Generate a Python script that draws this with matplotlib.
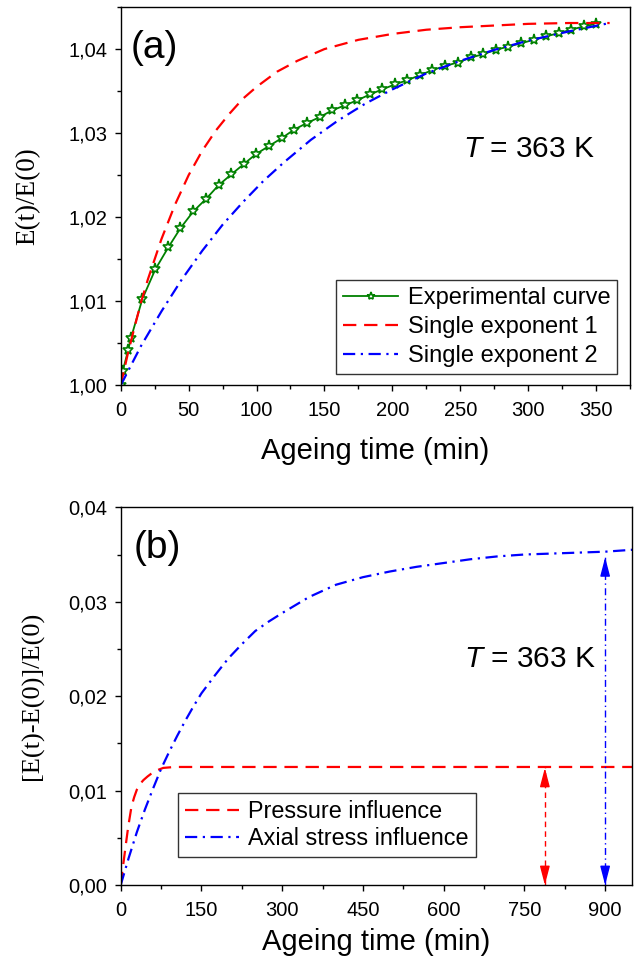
import matplotlib
matplotlib.use('Agg')
import matplotlib.pyplot as plt
from matplotlib.ticker import MultipleLocator, FuncFormatter

plt.rcParams['font.family'] = ['Liberation Sans', 'DejaVu Sans']
plt.rcParams['mathtext.fontset'] = 'custom'
plt.rcParams['mathtext.it'] = 'Liberation Sans:italic'
plt.rcParams['mathtext.rm'] = 'Liberation Sans'

# (a) experimental curve
exp_t = [0, 1.5, 5.5, 7.5, 16, 25.5, 35, 44, 53.5, 63, 72, 81.5, 90.5, 99.5, 109, 118.5,
         127.5, 137, 146.5, 155.5, 165, 174, 183.5, 192.5, 202, 211, 220.5, 229.5, 239,
         248, 258, 267, 276, 285.5, 295, 304, 313, 322.5, 331.5, 341, 350]
exp_v = [1.0000, 1.0017, 1.0042, 1.0056, 1.0103, 1.0138, 1.0164, 1.0187, 1.0207, 1.0222,
         1.0238, 1.0251, 1.0263, 1.0275, 1.02845, 1.0294, 1.0304, 1.0312, 1.0319, 1.0327,
         1.0333, 1.0339, 1.0346, 1.0352, 1.0358, 1.0363, 1.0369, 1.0375, 1.0380, 1.0384,
         1.0390, 1.0394, 1.0399, 1.0403, 1.0407, 1.0411, 1.0415, 1.0419, 1.0423, 1.0427,
         1.0430]

# (a) single exponent fits
fit1_t = [0, 5, 10, 15, 20, 30, 40, 50, 60, 70, 80, 90, 100, 115, 130, 150, 175, 200,
          225, 250, 275, 300, 330, 360]
fit1_v = [1.0, 1.0036, 1.0068, 1.0099, 1.0126, 1.0174, 1.0215, 1.0250, 1.0279, 1.0303,
          1.0323, 1.0341, 1.0355, 1.0373, 1.0386, 1.0400, 1.0411, 1.0418, 1.0423, 1.0426,
          1.0428, 1.0430, 1.0431, 1.0431]
fit2_t = [0, 15, 30, 45, 60, 75, 90, 105, 120, 140, 160, 180, 200, 225, 250, 275, 300,
          330, 360]
fit2_v = [1.0, 1.0047, 1.0088, 1.0126, 1.0160, 1.0191, 1.0218, 1.0243, 1.0265, 1.0292,
          1.0315, 1.0335, 1.0352, 1.0371, 1.0386, 1.0399, 1.0410, 1.0421, 1.0431]

# (b) pressure and axial stress influence
pres_t = [0, 5, 10, 14, 20, 25, 30, 36, 42, 50, 57, 65, 79, 100, 950]
pres_v = [0, 0.0023, 0.0045, 0.0062, 0.0083, 0.0093, 0.0101, 0.0107, 0.0111, 0.0115,
          0.0118, 0.0121, 0.0124, 0.0125, 0.0125]
axial_t = [0, 15, 30, 45, 60, 75, 90, 105, 120, 135, 150, 175, 200, 225, 250, 275, 300,
           350, 400, 450, 500, 550, 600, 650, 700, 750, 800, 850, 900, 950]
axial_v = [0, 0.0029, 0.0056, 0.0080, 0.0102, 0.0123, 0.0141, 0.0158, 0.0174, 0.0189,
           0.0203, 0.0222, 0.0240, 0.0255, 0.0269, 0.0279, 0.0288, 0.0305, 0.0318,
           0.0326, 0.0332, 0.0337, 0.0341, 0.0345, 0.0348, 0.0350, 0.0351, 0.0352,
           0.0353, 0.0355]

# double arrows in (b): x, bottom, top
pres_arrow = [788, 0.0, 0.0124]
axial_arrow = [900, 0.0, 0.0347]

comma = FuncFormatter(lambda v, p: f'{v:.2f}'.replace('.', ','))

fig = plt.figure(figsize=(6.36, 9.65), dpi=100)
ax1 = fig.add_axes([0.1898, 0.6007, 0.8008, 0.392])
ax2 = fig.add_axes([0.1898, 0.0829, 0.804, 0.3914])

ax1.plot(exp_t, exp_v, color='green', lw=1.3, marker='*', ms=8, mfc='white',
         mec='green', mew=1.2, label='Experimental curve')
ax1.plot(fit1_t, fit1_v, color='red', lw=1.6, dashes=(6, 3.5), label='Single exponent 1')
ax1.plot(fit2_t, fit2_v, color='blue', lw=1.6, dashes=(5.5, 2.5, 1, 2.5),
         label='Single exponent 2')

ax2.plot(pres_t, pres_v, color='red', lw=1.6, dashes=(6, 3.5), label='Pressure influence')
ax2.plot(axial_t, axial_v, color='blue', lw=1.6, dashes=(5.5, 2.5, 1, 2.5),
         label='Axial stress influence')


def double_arrow(ax, x, y0, y1, color, dashes):
    ax.plot([x, x], [y0, y1], color=color, lw=1.0, dashes=dashes)
    h = 0.0018
    for tip, tail in ((y0, y0 + h), (y1, y1 - h)):
        ax.annotate('', xy=(x, tip), xytext=(x, tail),
                    arrowprops=dict(arrowstyle='-|>,head_length=1.15,head_width=0.3',
                                    color=color, lw=1.0, shrinkA=0, shrinkB=0,
                                    mutation_scale=10))


double_arrow(ax2, *pres_arrow, 'red', (4, 3))
double_arrow(ax2, *axial_arrow, 'blue', (5, 2.5, 1, 2.5))

ax1.set_xlim(0, 375)
ax1.set_ylim(1.0, 1.045)
ax1.xaxis.set_major_locator(MultipleLocator(50))
ax1.xaxis.set_minor_locator(MultipleLocator(25))
ax1.yaxis.set_major_locator(MultipleLocator(0.01))
ax1.yaxis.set_minor_locator(MultipleLocator(0.005))

ax2.set_xlim(0, 950)
ax2.set_ylim(0, 0.04)
ax2.xaxis.set_major_locator(MultipleLocator(150))
ax2.xaxis.set_minor_locator(MultipleLocator(75))
ax2.yaxis.set_major_locator(MultipleLocator(0.01))
ax2.yaxis.set_minor_locator(MultipleLocator(0.005))

for ax in (ax1, ax2):
    ax.yaxis.set_major_formatter(comma)
    ax.tick_params(which='both', direction='out', top=False, right=False,
                   labelsize=14.5, width=1.0)
    ax.tick_params(axis='x', which='both', pad=7)
    ax.tick_params(axis='y', which='both', pad=5)
    ax.tick_params(which='major', length=4.5)
    ax.tick_params(which='minor', length=3)
    for s in ax.spines.values():
        s.set_linewidth(1.0)

ax1.set_xlabel('Ageing time (min)', fontsize=21, labelpad=12)
ax2.set_xlabel('Ageing time (min)', fontsize=21, labelpad=6)
ax1.set_ylabel('E(t)/E(0)', family=['Liberation Serif'], fontsize=19.5, labelpad=20)
ax2.set_ylabel('[E(t)-E(0)]/E(0)', family=['Liberation Serif'], fontsize=19, labelpad=18)

ax1.text(0.02, 0.94, '(a)', transform=ax1.transAxes, fontsize=28, va='top')
ax2.text(0.025, 0.94, '(b)', transform=ax2.transAxes, fontsize=28, va='top')
ax1.text(0.673, 0.6035, r'$T$ = 363 K', transform=ax1.transAxes, fontsize=21.5,
         va='baseline')
ax2.text(0.671, 0.577, r'$T$ = 363 K', transform=ax2.transAxes, fontsize=21.5,
         va='baseline')

leg_kw = dict(frameon=True, fancybox=False, framealpha=1, edgecolor='#333333',
              handletextpad=0.4, borderpad=0.3, borderaxespad=0, numpoints=1,
              markerscale=0.75)
l1 = ax1.legend(loc='upper left', bbox_to_anchor=(0.4227, 0.2783), fontsize=17,
                handlelength=2.33, labelspacing=0.29, **leg_kw)
l2 = ax2.legend(loc='upper left', bbox_to_anchor=(0.1127, 0.2444), fontsize=16.8,
                handlelength=2.3, labelspacing=0.19, **leg_kw)
for lg in (l1, l2):
    lg.get_frame().set_linewidth(1.0)

fig.savefig('out.png', dpi=100)
